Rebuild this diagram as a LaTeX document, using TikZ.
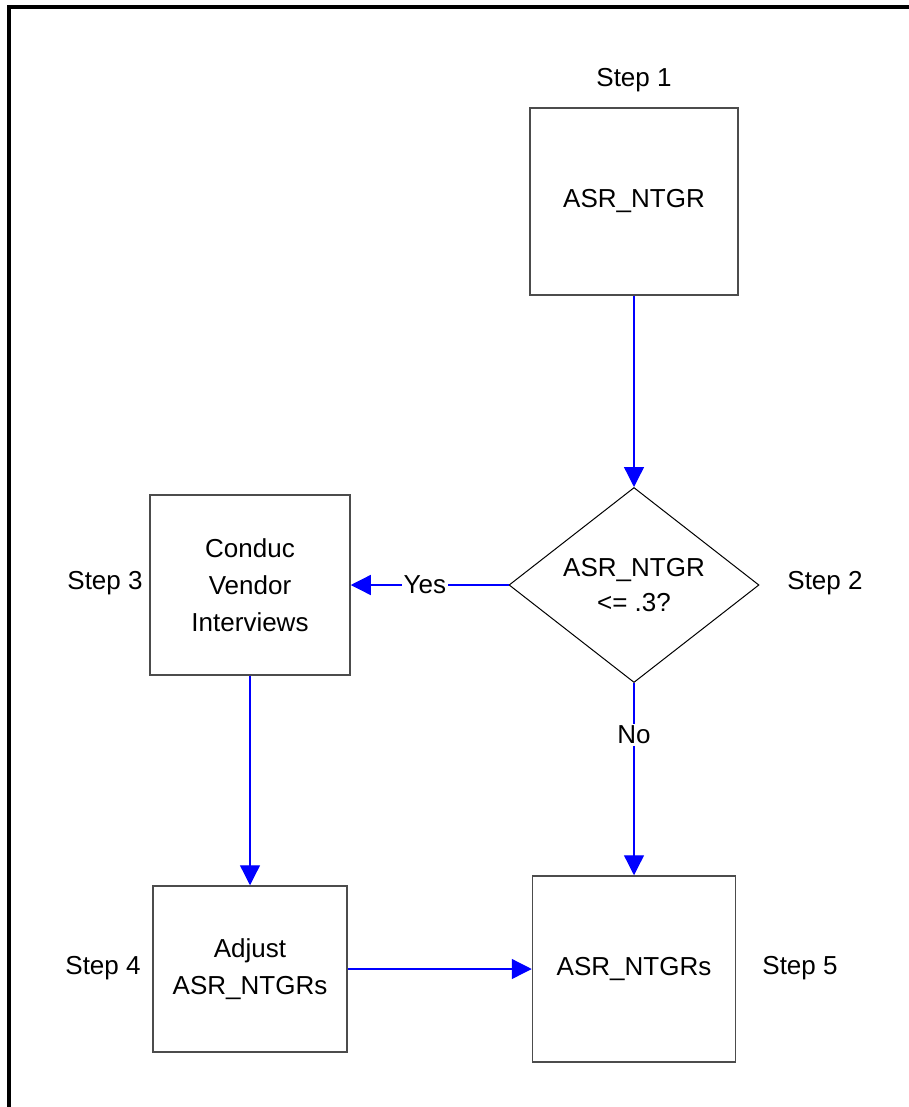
\documentclass[tikz,border=0pt]{standalone}
\usepackage{fontspec}
\setmainfont{Liberation Sans}
\usetikzlibrary{arrows.meta,shapes.geometric}
\begin{document}
\begin{tikzpicture}[x=1pt,y=-1pt,
  every node/.style={font=\fontsize{26}{37}\selectfont},
  stepbox/.style={draw=black!70,line width=1.5pt,minimum width=205pt,minimum height=186pt,inner sep=0pt,align=center},
  decbox/.style={draw=black,line width=1pt,diamond,minimum width=250pt,minimum height=185pt,inner sep=0pt,align=center},
  flow/.style={draw=blue,line width=1.3pt,-{Triangle[length=20pt,width=20pt]}},
  lbl/.style={fill=white,inner sep=2pt},
  steplbl/.style={inner sep=0pt}]
\useasboundingbox (0,0) rectangle (909,1107);
\fill[white] (0,0) rectangle (909,1107);
\draw[line width=4pt] (9,1107) -- (9,7) -- (909,7);
\node[stepbox,minimum width=208pt,minimum height=187pt] (s1) at (634,201.5) {ASR\_NTGR};
\node[steplbl] (l1) at (634,80) {Step 1};
\node[decbox] (s2) at (634,585) {ASR\_NTGR\\[-2pt]<= .3?};
\node[steplbl] (l2) at (825,583) {Step 2};
\node[stepbox,minimum width=200pt,minimum height=180pt] (s3) at (250,585) {Conduc\\Vendor\\Interviews};
\node[steplbl] (l3) at (105,583) {Step 3};
\node[stepbox,minimum width=194pt,minimum height=166pt] (s4) at (250,969) {Adjust\\ASR\_NTGRs};
\node[steplbl] (l4) at (103,968) {Step 4};
\node[stepbox,minimum width=203pt,minimum height=186pt] (s5) at (634,969) {ASR\_NTGRs};
\node[steplbl] (l5) at (800,968) {Step 5};
\draw[flow] (s1.south) -- (s2.north);
\draw[flow] (s2.west) -- node[lbl,pos=0.53] {Yes} (s3.east);
\draw[flow] (s2.south) -- node[lbl,pos=0.27] {No} (s5.north);
\draw[flow] (s3.south) -- (s4.north);
\draw[flow] (s4.east) -- (s5.west);
\end{tikzpicture}
\end{document}
